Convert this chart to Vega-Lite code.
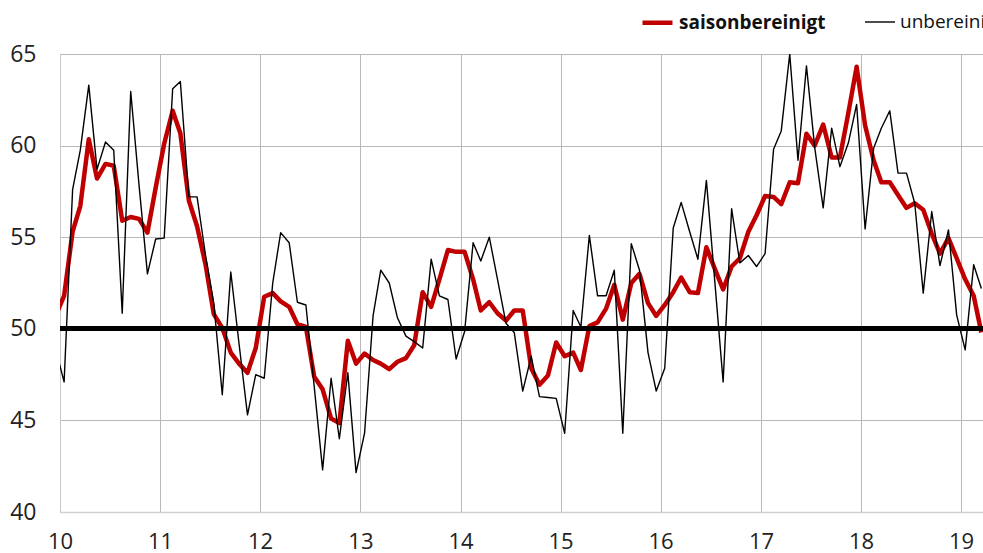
{
  "$schema": "https://vega.github.io/schema/vega-lite/v6.json",
  "width": 923,
  "height": 458,
  "autosize": {"type": "none"},
  "padding": {"left": 60, "top": 54, "right": 0, "bottom": 41},
  "background": "white",
  "config": {"view": {"stroke": null}, "font": "Open Sans"},
  "data": {"values": [
    {"d": "2009-12-16", "saisonbereinigt": 50.7, "unbereinigt": 48.9},
    {"d": "2010-01-16", "saisonbereinigt": 51.8, "unbereinigt": 47.1},
    {"d": "2010-02-16", "saisonbereinigt": 55.3, "unbereinigt": 57.6},
    {"d": "2010-03-16", "saisonbereinigt": 56.7, "unbereinigt": 59.75},
    {"d": "2010-04-16", "saisonbereinigt": 60.35, "unbereinigt": 63.3},
    {"d": "2010-05-16", "saisonbereinigt": 58.2, "unbereinigt": 58.7},
    {"d": "2010-06-16", "saisonbereinigt": 59.0, "unbereinigt": 60.2},
    {"d": "2010-07-16", "saisonbereinigt": 58.9, "unbereinigt": 59.75},
    {"d": "2010-08-16", "saisonbereinigt": 55.9, "unbereinigt": 50.85},
    {"d": "2010-09-16", "saisonbereinigt": 56.1, "unbereinigt": 62.95},
    {"d": "2010-10-16", "saisonbereinigt": 56.0, "unbereinigt": 57.9},
    {"d": "2010-11-16", "saisonbereinigt": 55.25, "unbereinigt": 53.0},
    {"d": "2010-12-16", "saisonbereinigt": 57.7, "unbereinigt": 54.9},
    {"d": "2011-01-16", "saisonbereinigt": 60.1, "unbereinigt": 54.95},
    {"d": "2011-02-16", "saisonbereinigt": 61.9, "unbereinigt": 63.1},
    {"d": "2011-03-16", "saisonbereinigt": 60.67, "unbereinigt": 63.5},
    {"d": "2011-04-16", "saisonbereinigt": 57.0, "unbereinigt": 57.2},
    {"d": "2011-05-16", "saisonbereinigt": 55.6, "unbereinigt": 57.2},
    {"d": "2011-06-16", "saisonbereinigt": 53.5, "unbereinigt": 54.0},
    {"d": "2011-07-16", "saisonbereinigt": 50.8, "unbereinigt": 51.4},
    {"d": "2011-08-16", "saisonbereinigt": 50.05, "unbereinigt": 46.4},
    {"d": "2011-09-16", "saisonbereinigt": 48.7, "unbereinigt": 53.1},
    {"d": "2011-10-16", "saisonbereinigt": 48.1, "unbereinigt": 49.2},
    {"d": "2011-11-16", "saisonbereinigt": 47.6, "unbereinigt": 45.3},
    {"d": "2011-12-16", "saisonbereinigt": 48.95, "unbereinigt": 47.5},
    {"d": "2012-01-16", "saisonbereinigt": 51.75, "unbereinigt": 47.3},
    {"d": "2012-02-16", "saisonbereinigt": 51.95, "unbereinigt": 52.5},
    {"d": "2012-03-16", "saisonbereinigt": 51.5, "unbereinigt": 55.25},
    {"d": "2012-04-16", "saisonbereinigt": 51.2, "unbereinigt": 54.7},
    {"d": "2012-05-16", "saisonbereinigt": 50.25, "unbereinigt": 51.45},
    {"d": "2012-06-16", "saisonbereinigt": 50.1, "unbereinigt": 51.3},
    {"d": "2012-07-16", "saisonbereinigt": 47.4, "unbereinigt": 46.9},
    {"d": "2012-08-16", "saisonbereinigt": 46.7, "unbereinigt": 42.3},
    {"d": "2012-09-16", "saisonbereinigt": 45.1, "unbereinigt": 47.3},
    {"d": "2012-10-16", "saisonbereinigt": 44.85, "unbereinigt": 44.0},
    {"d": "2012-11-16", "saisonbereinigt": 49.35, "unbereinigt": 47.6},
    {"d": "2012-12-16", "saisonbereinigt": 48.1, "unbereinigt": 42.15},
    {"d": "2013-01-16", "saisonbereinigt": 48.65, "unbereinigt": 44.3},
    {"d": "2013-02-16", "saisonbereinigt": 48.3, "unbereinigt": 50.7},
    {"d": "2013-03-16", "saisonbereinigt": 48.1, "unbereinigt": 53.2},
    {"d": "2013-04-16", "saisonbereinigt": 47.8, "unbereinigt": 52.5},
    {"d": "2013-05-16", "saisonbereinigt": 48.2, "unbereinigt": 50.6},
    {"d": "2013-06-16", "saisonbereinigt": 48.4, "unbereinigt": 49.6},
    {"d": "2013-07-16", "saisonbereinigt": 49.1, "unbereinigt": 49.3},
    {"d": "2013-08-16", "saisonbereinigt": 52.0, "unbereinigt": 48.95},
    {"d": "2013-09-16", "saisonbereinigt": 51.2, "unbereinigt": 53.8},
    {"d": "2013-10-16", "saisonbereinigt": 52.7, "unbereinigt": 51.8},
    {"d": "2013-11-16", "saisonbereinigt": 54.3, "unbereinigt": 51.6},
    {"d": "2013-12-16", "saisonbereinigt": 54.2, "unbereinigt": 48.35},
    {"d": "2014-01-16", "saisonbereinigt": 54.2, "unbereinigt": 49.85},
    {"d": "2014-02-16", "saisonbereinigt": 52.7, "unbereinigt": 54.7},
    {"d": "2014-03-16", "saisonbereinigt": 51.0, "unbereinigt": 53.7},
    {"d": "2014-04-16", "saisonbereinigt": 51.45, "unbereinigt": 55.0},
    {"d": "2014-05-16", "saisonbereinigt": 50.85, "unbereinigt": 52.7},
    {"d": "2014-06-16", "saisonbereinigt": 50.45, "unbereinigt": 50.3},
    {"d": "2014-07-16", "saisonbereinigt": 51.0, "unbereinigt": 49.8},
    {"d": "2014-08-16", "saisonbereinigt": 51.0, "unbereinigt": 46.6},
    {"d": "2014-09-16", "saisonbereinigt": 47.85, "unbereinigt": 48.5},
    {"d": "2014-10-16", "saisonbereinigt": 46.95, "unbereinigt": 46.3},
    {"d": "2014-11-16", "saisonbereinigt": 47.45, "unbereinigt": 46.25},
    {"d": "2014-12-16", "saisonbereinigt": 49.25, "unbereinigt": 46.2},
    {"d": "2015-01-16", "saisonbereinigt": 48.5, "unbereinigt": 44.3},
    {"d": "2015-02-16", "saisonbereinigt": 48.7, "unbereinigt": 51.0},
    {"d": "2015-03-16", "saisonbereinigt": 47.75, "unbereinigt": 50.1},
    {"d": "2015-04-16", "saisonbereinigt": 50.15, "unbereinigt": 55.1},
    {"d": "2015-05-16", "saisonbereinigt": 50.35, "unbereinigt": 51.8},
    {"d": "2015-06-16", "saisonbereinigt": 51.1, "unbereinigt": 51.8},
    {"d": "2015-07-16", "saisonbereinigt": 52.4, "unbereinigt": 53.2},
    {"d": "2015-08-16", "saisonbereinigt": 50.5, "unbereinigt": 44.3},
    {"d": "2015-09-16", "saisonbereinigt": 52.5, "unbereinigt": 54.65},
    {"d": "2015-10-16", "saisonbereinigt": 53.0, "unbereinigt": 53.2},
    {"d": "2015-11-16", "saisonbereinigt": 51.4, "unbereinigt": 48.7},
    {"d": "2015-12-16", "saisonbereinigt": 50.7, "unbereinigt": 46.6},
    {"d": "2016-01-16", "saisonbereinigt": 51.3, "unbereinigt": 47.85},
    {"d": "2016-02-16", "saisonbereinigt": 52.0, "unbereinigt": 55.5},
    {"d": "2016-03-16", "saisonbereinigt": 52.8, "unbereinigt": 56.9},
    {"d": "2016-04-16", "saisonbereinigt": 52.0, "unbereinigt": 55.3},
    {"d": "2016-05-16", "saisonbereinigt": 51.95, "unbereinigt": 53.8},
    {"d": "2016-06-16", "saisonbereinigt": 54.45, "unbereinigt": 58.1},
    {"d": "2016-07-16", "saisonbereinigt": 53.3, "unbereinigt": 52.7},
    {"d": "2016-08-16", "saisonbereinigt": 52.15, "unbereinigt": 47.1},
    {"d": "2016-09-16", "saisonbereinigt": 53.4, "unbereinigt": 56.55},
    {"d": "2016-10-16", "saisonbereinigt": 53.85, "unbereinigt": 53.6},
    {"d": "2016-11-16", "saisonbereinigt": 55.3, "unbereinigt": 54.0},
    {"d": "2016-12-16", "saisonbereinigt": 56.2, "unbereinigt": 53.4},
    {"d": "2017-01-16", "saisonbereinigt": 57.25, "unbereinigt": 54.1},
    {"d": "2017-02-16", "saisonbereinigt": 57.2, "unbereinigt": 59.8},
    {"d": "2017-03-16", "saisonbereinigt": 56.8, "unbereinigt": 60.8},
    {"d": "2017-04-16", "saisonbereinigt": 58.0, "unbereinigt": 65.0},
    {"d": "2017-05-16", "saisonbereinigt": 57.95, "unbereinigt": 59.2},
    {"d": "2017-06-16", "saisonbereinigt": 60.65, "unbereinigt": 64.35},
    {"d": "2017-07-16", "saisonbereinigt": 60.0, "unbereinigt": 59.9},
    {"d": "2017-08-16", "saisonbereinigt": 61.15, "unbereinigt": 56.6},
    {"d": "2017-09-16", "saisonbereinigt": 59.35, "unbereinigt": 60.95},
    {"d": "2017-10-16", "saisonbereinigt": 59.35, "unbereinigt": 58.85},
    {"d": "2017-11-16", "saisonbereinigt": 61.8, "unbereinigt": 60.15},
    {"d": "2017-12-16", "saisonbereinigt": 64.3, "unbereinigt": 62.25},
    {"d": "2018-01-16", "saisonbereinigt": 61.1, "unbereinigt": 55.45},
    {"d": "2018-02-16", "saisonbereinigt": 59.2, "unbereinigt": 59.85},
    {"d": "2018-03-16", "saisonbereinigt": 58.0, "unbereinigt": 60.95},
    {"d": "2018-04-16", "saisonbereinigt": 58.0, "unbereinigt": 61.9},
    {"d": "2018-05-16", "saisonbereinigt": 57.3, "unbereinigt": 58.5},
    {"d": "2018-06-16", "saisonbereinigt": 56.6, "unbereinigt": 58.5},
    {"d": "2018-07-16", "saisonbereinigt": 56.85, "unbereinigt": 56.85},
    {"d": "2018-08-16", "saisonbereinigt": 56.5, "unbereinigt": 51.95},
    {"d": "2018-09-16", "saisonbereinigt": 55.2, "unbereinigt": 56.4},
    {"d": "2018-10-16", "saisonbereinigt": 54.1, "unbereinigt": 53.45},
    {"d": "2018-11-16", "saisonbereinigt": 54.95, "unbereinigt": 55.4},
    {"d": "2018-12-16", "saisonbereinigt": 53.85, "unbereinigt": 50.75},
    {"d": "2019-01-16", "saisonbereinigt": 52.7, "unbereinigt": 48.85},
    {"d": "2019-02-16", "saisonbereinigt": 51.8, "unbereinigt": 53.5},
    {"d": "2019-03-16", "saisonbereinigt": 49.8, "unbereinigt": 52.2}
  ]},
  "layer": [
    {
      "transform": [{"fold": ["saisonbereinigt", "unbereinigt"], "as": ["serie", "wert"]}],
      "mark": {"type": "line", "clip": true, "strokeJoin": "round"},
      "encoding": {
        "x": {
          "field": "d", "type": "temporal",
          "scale": {"type": "utc", "domain": [{"year": 2010, "month": 1, "date": 1, "utc": true}, {"year": 2019, "month": 3, "date": 22, "utc": true}]},
          "axis": {
            "title": null, "format": "%y",
            "values": [
              {"year": 2010, "month": 1, "date": 1, "utc": true},
              {"year": 2011, "month": 1, "date": 1, "utc": true},
              {"year": 2012, "month": 1, "date": 1, "utc": true},
              {"year": 2013, "month": 1, "date": 1, "utc": true},
              {"year": 2014, "month": 1, "date": 1, "utc": true},
              {"year": 2015, "month": 1, "date": 1, "utc": true},
              {"year": 2016, "month": 1, "date": 1, "utc": true},
              {"year": 2017, "month": 1, "date": 1, "utc": true},
              {"year": 2018, "month": 1, "date": 1, "utc": true},
              {"year": 2019, "month": 1, "date": 1, "utc": true}
            ],
            "grid": true, "gridColor": "#b8b8b8", "gridWidth": 1,
            "ticks": false, "domainColor": "#d0d0d0", "domainWidth": 1.5,
            "labelFontSize": 22, "labelColor": "#222222", "labelPadding": 19, "labelDx": 4,
            "labelFlush": false, "labelOverlap": false, "labelFont": "Open Sans"
          }
        },
        "y": {
          "field": "wert", "type": "quantitative",
          "scale": {"domain": [40, 65], "nice": false, "zero": false},
          "axis": {
            "title": null, "values": [40, 45, 50, 55, 60, 65],
            "grid": true, "gridColor": "#b8b8b8", "gridWidth": 1,
            "ticks": false, "domainColor": "#c8c8c8", "domainWidth": 1,
            "labelFontSize": 23, "labelColor": "#222222", "labelPadding": 24, "labelFont": "Open Sans"
          }
        },
        "color": {
          "field": "serie", "type": "nominal",
          "scale": {"domain": ["saisonbereinigt", "unbereinigt"], "range": ["#c00000", "#000000"]},
          "legend": {
            "title": null, "orient": "none", "legendX": 580, "legendY": -49,
            "direction": "horizontal", "symbolType": "stroke", "symbolSize": 900,
            "labelFontSize": 19, "labelFont": "Open Sans", "labelColor": "#111111",
            "labelLimit": 400, "columnPadding": 36, "labelOffset": 4, "padding": 0,
            "encode": {
              "labels": {"update": {"fontWeight": [{"test": "datum.value === 'saisonbereinigt'", "value": "bold"}, {"value": "normal"}]}}
            }
          }
        },
        "strokeWidth": {
          "field": "serie", "type": "nominal",
          "scale": {"domain": ["saisonbereinigt", "unbereinigt"], "range": [4.5, 1.4]},
          "legend": null
        }
      }
    },
    {
      "mark": {"type": "rule", "color": "#000000", "strokeWidth": 4.5},
      "encoding": {"y": {"datum": 50}}
    }
  ]
}
